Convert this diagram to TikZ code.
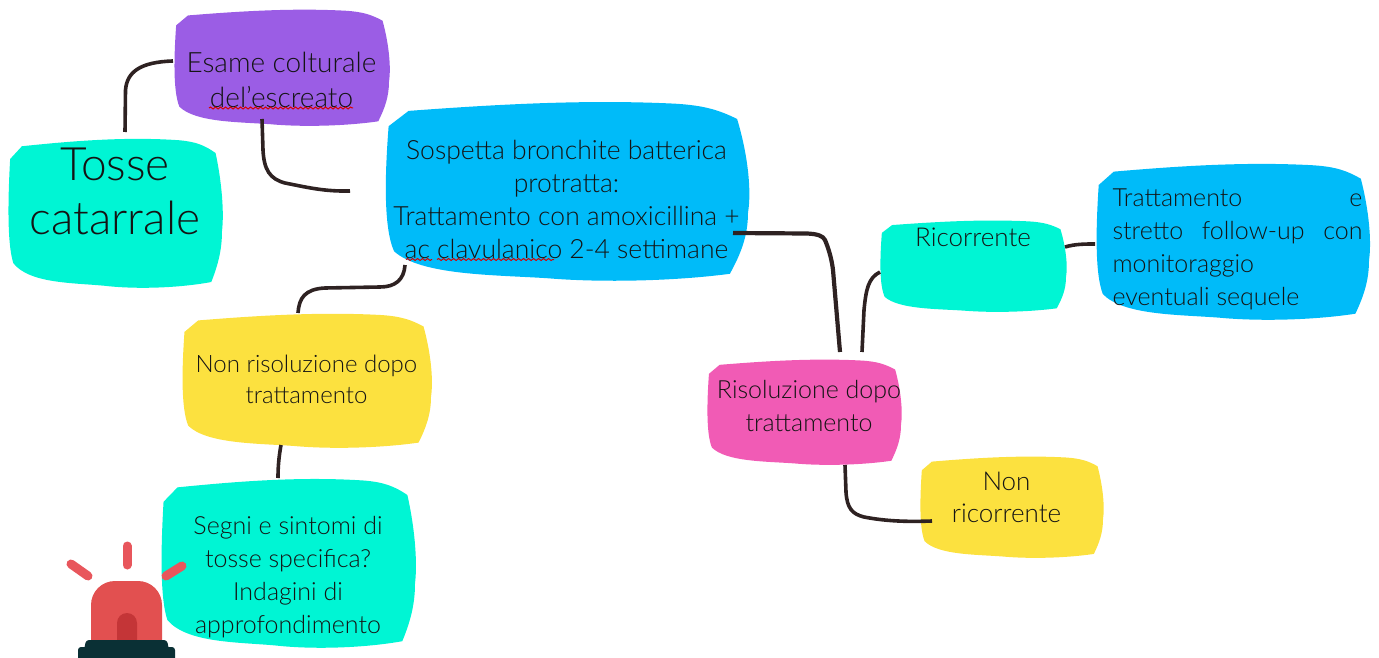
\documentclass[tikz,border=0pt]{standalone}
\usepackage{fontspec}
\setmainfont{Lato}[UprightFont=* Light]
\usetikzlibrary{decorations.pathmorphing}
\definecolor{cteal}{HTML}{00F5D4}
\definecolor{cpurple}{HTML}{9B5DE5}
\definecolor{cblue}{HTML}{00BBF9}
\definecolor{cyellow}{HTML}{FCE13F}
\definecolor{cpink}{HTML}{F15BB5}
\definecolor{cline}{HTML}{2E2222}
\definecolor{cray}{HTML}{E8565C}
\definecolor{cdome}{HTML}{E25050}
\definecolor{cinner}{HTML}{C43537}
\definecolor{cbase}{HTML}{0A3035}
\tikzset{
  conn/.style={draw=cline,line width=3.6pt},
  squiggle/.style={draw=red!85!black,line width=1pt,decorate,decoration={snake,amplitude=1pt,segment length=5pt}},
  boxnode/.style={inner sep=0pt,outer sep=0pt,text=black!92},
  ray/.style={draw=cray,line width=9pt,line cap=round}
}
\newcommand{\fs}[2]{\fontsize{#1}{#2}\selectfont}
\newcommand{\boxn}[9]{%
  \pgfmathsetmacro{\bw}{#4-#2}\pgfmathsetmacro{\bh}{#5-#3}%
  \fill[#6,shift={(#2,#3)},x=\bw pt,y=-\bh pt]
    (0.01,0.14) -- (0.065,0.055) .. controls (0.3,0.02) and (0.55,-0.01) .. (0.8,0.015)
    .. controls (0.88,0.025) and (0.92,0.05) .. (0.97,0.10)
    .. controls (1.0,0.3) and (1.01,0.5) .. (1.0,0.62)
    .. controls (1.0,0.75) and (0.98,0.85) .. (0.95,0.96)
    .. controls (0.8,1.0) and (0.6,1.01) .. (0.45,0.985)
    .. controls (0.3,0.965) and (0.1,0.97) .. (0.025,0.835)
    .. controls (-0.005,0.7) and (0,0.4) .. cycle;
  \node[boxnode,minimum width=\bw pt,minimum height=\bh pt] (#1) at ({(#2+#4)/2},{(#3+#5)/2})
    {\raisebox{#8pt}[0pt][0pt]{\makebox[0pt][c]{\hspace*{#7pt}\hspace*{#7pt}\parbox[c]{420pt}{\centering #9}}}};
}
\begin{document}
\begin{tikzpicture}[x=1pt,y=-1pt]
\useasboundingbox (0,0) rectangle (1379,658);
\boxn{tosse}{8}{138}{222}{288}{cteal}{0}{19}{\fs{46}{54}Tosse\\catarrale}
\boxn{esame}{174}{9}{389}{126}{cpurple}{0}{-15}{\fs{28}{35}Esame colturale\\del’escreato}
\boxn{sospetta}{385}{101}{748}{281}{cblue}{0}{-11}{\fs{26.5}{32.7}Sospetta bronchite batterica\\protratta:\\Trattamento con amoxicillina +\\ac clavulanico 2-4 settimane}
\boxn{nonris}{182}{313}{431}{448}{cyellow}{0}{-1}{\fs{24}{31}Non risoluzione dopo\\trattamento}
\boxn{segni}{161}{478}{415}{648}{cteal}{0}{-16.5}{\fs{25}{33}Segni e sintomi di\\tosse specifica?\\Indagini di\\approfondimento}
\boxn{risol}{707}{359}{901}{465}{cpink}{5}{3}{\fs{25}{33}Risoluzione dopo\\trattamento}
\boxn{ricorr}{880}{220}{1066}{312}{cteal}{0}{26}{\fs{26}{33}Ricorrente}
\boxn{tratt}{1096}{163}{1369}{320}{cblue}{5}{-10.5}{\fs{25}{33}\makebox[250pt][s]{Trattamento\hfill e}\\\makebox[250pt][s]{stretto\hfill follow-up\hfill con}\\\makebox[250pt][l]{monitoraggio}\\\makebox[250pt][l]{eventuali sequele}}
\boxn{nonric}{920}{456}{1103}{558}{cyellow}{-5}{7}{\fs{26}{32}Non\\ricorrente}
% wavy underlines
\draw[squiggle] (209,108) -- (353,108);
\draw[squiggle] (406,259.5) -- (432,259.5);
\draw[squiggle] (437,259.5) -- (554,259.5);
% connectors
\draw[conn] ([shift={(10,-6)}]tosse.north) -- (125.5,90) .. controls (127,72) and (140,62) .. ([shift={(-1,-6.5)}]esame.west);
\draw[conn] ([shift={(-19.5,-7)}]esame.south) -- (263,150) .. controls (264,170) and (270,179) .. (285,183) .. controls (310,188) and (325,191.5) .. ([shift={(-35,0)}]sospetta.west);
\draw[conn] ([shift={(-161.5,-16)}]sospetta.south) .. controls (404,280) and (395,287) .. (380,287) -- (325,288) .. controls (305,289) and (299,298) .. ([shift={(-8.5,0)}]nonris.north);
\draw[conn] ([shift={(-25.5,-3)}]nonris.south) .. controls (279,456) and (278,466) .. ([shift={(-10,0)}]segni.north);
\draw[conn,line width=4.2pt] ([shift={(-15,42)}]sospetta.east) -- (807,233.5) .. controls (818,234) and (823,236) .. (825,240) .. controls (830,252) and (832,262) .. (833,270) -- ([shift={(36,-7)}]risol.north);
\draw[conn] ([shift={(58,-7)}]risol.north) -- (864,310) .. controls (866,290) and (868,278) .. ([shift={(0,6)}]ricorr.west);
\draw[conn] ([shift={(-1,-19)}]ricorr.east) .. controls (1075,244) and (1085,244) .. ([shift={(-1,2.5)}]tratt.west);
\draw[conn] ([shift={(41,0)}]risol.south) -- (846,492) .. controls (847,508) and (852,514) .. (864,517) .. controls (885,521) and (905,522) .. ([shift={(12,14)}]nonric.west);
% beacon
\draw[ray] (127,546) -- (127,565);
\draw[ray] (71,564) -- (88,576);
\draw[ray] (166,576) -- (182,566);
\fill[cdome] (91,642) [rounded corners=24pt] -- (91,581) -- (162,581) [sharp corners] -- (162,642) -- cycle;
\fill[cinner] (117,642) [rounded corners=10pt] -- (117,613) -- (137,613) [sharp corners] -- (137,642) -- cycle;
\fill[cbase,rounded corners=3pt] (84,650) -- (86,640) -- (167,640) -- (169,650) -- cycle;
\fill[cbase,rounded corners=3pt] (78,664) -- (78,647) -- (175,647) -- (175,664) -- cycle;
\end{tikzpicture}
\end{document}
